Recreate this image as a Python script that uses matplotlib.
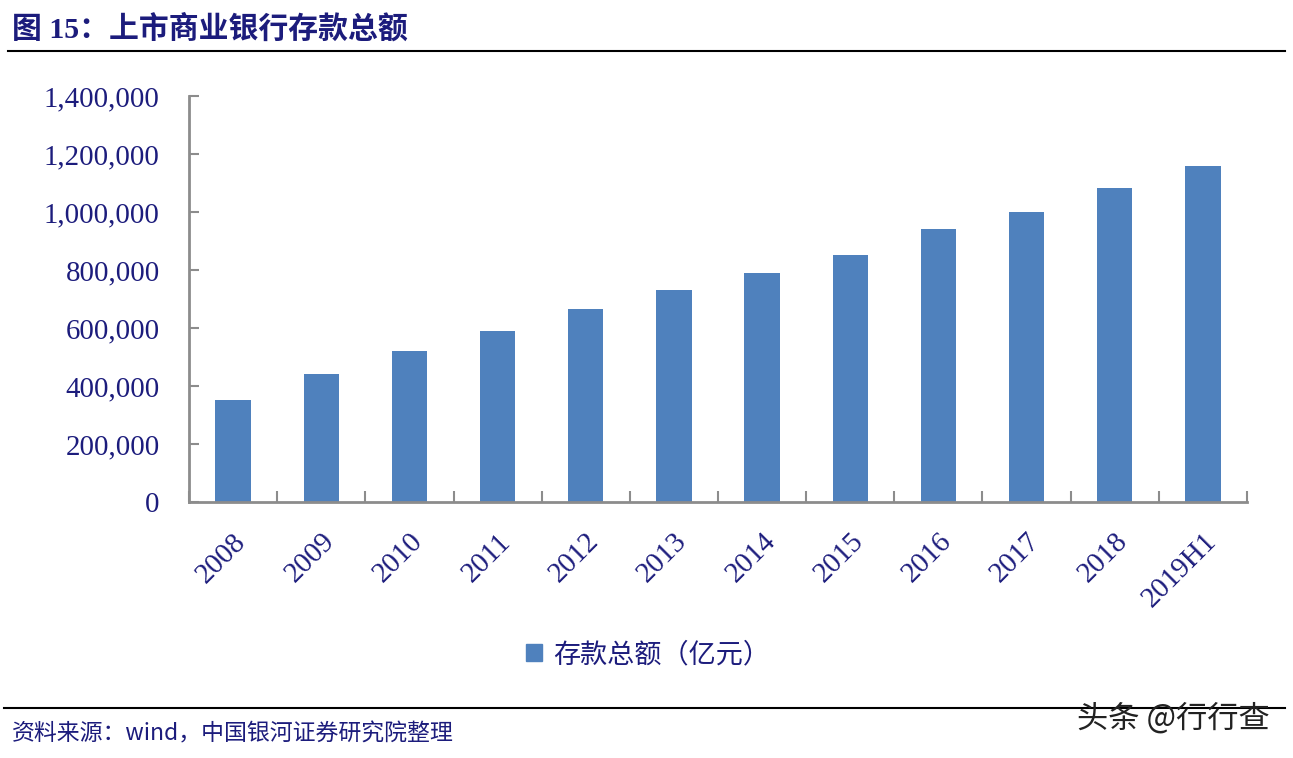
import matplotlib
matplotlib.use("Agg")
import matplotlib.pyplot as plt
from matplotlib.ticker import FuncFormatter
from matplotlib.lines import Line2D

plt.rcParams['font.family'] = ['Noto Sans CJK SC', 'DejaVu Sans']

# data (亿元)
years = ['2008', '2009', '2010', '2011', '2012', '2013', '2014', '2015',
         '2016', '2017', '2018', '2019H1']
deposits = [352000, 441000, 521000, 589000, 664000, 731000, 788000, 852000,
            941000, 1000000, 1082000, 1160000]
y_ticks = [0, 200000, 400000, 600000, 800000, 1000000, 1200000, 1400000]

navy = '#1c1c7c'
bar_color = '#4f81bd'
spine_color = '#8c8c8c'
serif = ['Liberation Serif', 'Noto Sans CJK SC']

fig = plt.figure(figsize=(12.93, 7.58), dpi=100)
ax = fig.add_axes([0.1462, 0.3377, 0.8182, 0.5357])

x = list(range(len(years)))
ax.bar(x, deposits, width=0.4, color=bar_color, zorder=2)

ax.set_xlim(-0.5, len(years) - 0.5)
ax.set_ylim(0, 1400000)
ax.set_yticks(y_ticks)
ax.yaxis.set_major_formatter(FuncFormatter(lambda v, p: f'{int(v):,}'))

# category labels at centres, tick marks at boundaries
ax.set_xticks(x)
ax.set_xticklabels(years, rotation=45, ha='right', rotation_mode='anchor')
ax.set_xticks([i + 0.5 for i in range(-1, len(years))], minor=True)
ax.tick_params(axis='x', which='major', length=0, pad=19)
ax.tick_params(axis='x', which='minor', direction='in', length=8,
               width=1.5, color=spine_color)
ax.tick_params(axis='y', direction='in', length=7, width=1.5,
               color=spine_color, pad=21)

for lbl in ax.get_xticklabels() + ax.get_yticklabels():
    lbl.set_family(serif)
    lbl.set_fontsize(20.8)
    lbl.set_color(navy)

for side in ['top', 'right']:
    ax.spines[side].set_visible(False)
for side in ['left', 'bottom']:
    ax.spines[side].set_color(spine_color)
    ax.spines[side].set_linewidth(2)

# title and rule
fig.text(0.009, 0.962, '图 15：上市商业银行存款总额', fontsize=21.5,
         fontweight='bold', color=navy, va='center', ha='left',
         family=['Liberation Serif', 'Noto Sans CJK SC'])
fig.add_artist(Line2D([0.006, 0.994], [0.933, 0.933], color='black', lw=1.5))

# legend
handle = plt.Rectangle((0, 0), 1, 1, color=bar_color)
fig.legend([handle], ['存款总额（亿元）'], loc='center',
           bbox_to_anchor=(0.501, 0.136), frameon=False,
           handlelength=0.6, handleheight=0.6, handletextpad=0.4,
           prop={'size': 19.5}, labelcolor=navy)

# footer
fig.add_artist(Line2D([0.003, 0.994], [0.066, 0.066], color='black', lw=1.5))
fig.text(0.009, 0.032, '资料来源：wind，中国银河证券研究院整理', fontsize=16.5,
         style='italic', color=navy, va='center', ha='left')
fig.text(0.982, 0.052, '头条 @行行查', fontsize=22.5, color='#222222',
         va='center', ha='right')

fig.savefig('out.png', dpi=100)
